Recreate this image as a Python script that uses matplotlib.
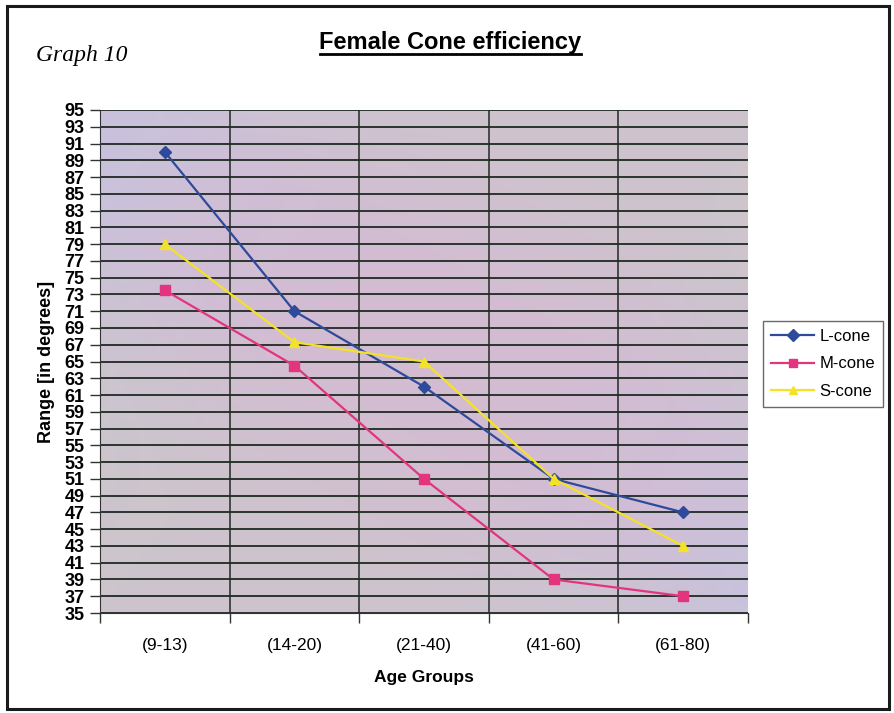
import numpy as np
import matplotlib
matplotlib.use("Agg")
import matplotlib.pyplot as plt
from matplotlib.patches import Rectangle

# Data
age_groups = ["(9-13)", "(14-20)", "(21-40)", "(41-60)", "(61-80)"]
l_cone = [90, 71, 62, 51, 47]
m_cone = [73.5, 64.5, 51, 39, 37]
s_cone = [79, 67.3, 65, 51, 43]
y_ticks = list(range(35, 96, 2))

plt.rcParams['font.family'] = ['Liberation Sans', 'DejaVu Sans']
narrow = ['Liberation Sans Narrow', 'Liberation Sans', 'DejaVu Sans']

fig = plt.figure(figsize=(8.94, 7.13), dpi=100)
ax = fig.add_axes([100 / 894, 1 - 613 / 713, 648 / 894, 503 / 713])

# Soft multi-colour background in the plot area (scanned Excel fill)
h, w = 60, 80
yy, xx = np.mgrid[0:1:h * 1j, 0:1:w * 1j]
lav = np.array([0.79, 0.76, 0.86])
pink = np.array([0.86, 0.72, 0.80])
green = np.array([0.77, 0.82, 0.76])
wp = np.clip(0.5 + 0.6 * np.sin(3.4 * xx - 2.0 * (1 - yy) + 0.8), 0, 1)
wg = np.clip(0.5 + 0.6 * np.cos(4.0 * (1 - yy) + 3.0 * xx - 0.5), 0, 1)
img = (lav[None, None, :] * 0.7
       + pink[None, None, :] * wp[..., None] * 0.9
       + green[None, None, :] * wg[..., None] * 0.9)
img = img / (0.7 + 0.9 * wp[..., None] + 0.9 * wg[..., None])
ax.imshow(img, extent=[0, 1, 0, 1], transform=ax.transAxes, aspect='auto',
          interpolation='bicubic', zorder=0)

x = np.arange(len(age_groups))
ax.plot(x, l_cone, color='#2e4a9a', lw=1.6, marker='D', ms=6.5, label='L-cone', zorder=3)
ax.plot(x, m_cone, color='#e2357e', lw=1.6, marker='s', ms=6.5, label='M-cone', zorder=3)
ax.plot(x, s_cone, color='#f3e226', lw=1.6, marker='^', ms=7, label='S-cone', zorder=3)

ax.set_xlim(-0.5, len(age_groups) - 0.5)
ax.set_ylim(35, 95)
ax.set_yticks(y_ticks)
ax.set_yticklabels([str(t) for t in y_ticks], fontsize=13, fontweight='bold',
                   family=narrow)
ax.set_xticks(x)
ax.set_xticklabels(age_groups, fontsize=12.5)
ax.set_xticks(np.arange(-0.5, len(age_groups), 1.0), minor=True)

# grid lines
for t in y_ticks:
    ax.axhline(t, color='#1f2a22', lw=1.3, zorder=1)
for b in np.arange(0.5, len(age_groups) - 0.5, 1.0):
    ax.axvline(b, color='#1f2a22', lw=1.1, zorder=1)

ax.tick_params(axis='x', which='major', length=0, pad=18)
ax.tick_params(axis='x', which='minor', length=7, width=1, color='#333333')
ax.tick_params(axis='y', length=7, width=1, pad=4, color='#333333')
ax.grid(False)
for side in ['top', 'right']:
    ax.spines[side].set_visible(False)
ax.spines['left'].set_color('#333333')
ax.spines['bottom'].set_color('#333333')

ax.set_xlabel('Age Groups', fontsize=12.5, fontweight='bold', labelpad=12)
ax.set_ylabel('Range [in degrees]', fontsize=13, fontweight='bold', labelpad=7)

fig.text(450 / 894, 1 - 42 / 713, 'Female Cone efficiency', fontsize=17,
         fontweight='bold', ha='center', va='center', family=narrow)
fig.add_artist(plt.Line2D([320 / 894, 581 / 894], [1 - 54 / 713, 1 - 54 / 713],
                          color='black', lw=2.0))
fig.text(36 / 894, 1 - 56 / 713, 'Graph 10', fontsize=17, style='italic',
         family=['Liberation Serif', 'DejaVu Serif'], ha='left', va='center')

leg = fig.legend(loc='center', bbox_to_anchor=(823 / 894, 1 - 364 / 713),
                 fontsize=12, frameon=True, fancybox=False, edgecolor='#444444',
                 handlelength=2.6, borderpad=0.5, labelspacing=0.75, handletextpad=0.3,
                 markerscale=0.9, borderaxespad=0)
leg.get_frame().set_linewidth(1.0)

# outer frame of the scanned chart
fig.add_artist(Rectangle((7 / 894, 4 / 713), 882 / 894, 703 / 713,
                         transform=fig.transFigure, fill=False,
                         edgecolor='#1a1a1a', lw=2.2))

fig.savefig('out.png', dpi=100)
